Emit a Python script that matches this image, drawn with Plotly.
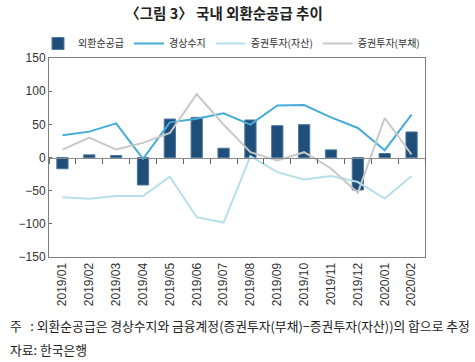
import plotly.graph_objects as go

months = ["2019/01", "2019/02", "2019/03", "2019/04", "2019/05", "2019/06", "2019/07",
          "2019/08", "2019/09", "2019/10", "2019/11", "2019/12", "2020/01", "2020/02"]
net_fx_supply = [-17, 4, 3, -41.5, 58, 60.5, 14, 56.5, 48, 49.5, 11.5, -49, 6, 38.5]
current_account = [33.5, 39, 51.5, -2, 53, 58.5, 66.5, 49.5, 78.5, 79, 60.5, 44.5, 11, 64.5]
portfolio_assets = [-60, -62, -58, -58, -29, -90, -98, 2, -22, -33, -28, -37, -62, -28]
portfolio_liab = [12, 30, 12, 22, 37, 95.5, 49.5, 8, -4.5, 8, -16.5, -53, 59.5, 4.5]

KR = "Noto Sans CJK KR"
PLOT_W = 376
H = 362

fig = go.Figure()
fig.add_trace(go.Bar(x=months, y=net_fx_supply, name="외환순공급",
                     marker=dict(color="#1f4e78", line=dict(color="#4d7aa0", width=1)),
                     width=0.42))
fig.add_trace(go.Scatter(x=months, y=current_account, name="경상수지", mode="lines",
                         line=dict(color="#45acd8", width=2)))
fig.add_trace(go.Scatter(x=months, y=portfolio_assets, name="증권투자(자산)", mode="lines",
                         line=dict(color="#b5e0ea", width=2)))
fig.add_trace(go.Scatter(x=months, y=portfolio_liab, name="증권투자(부채)", mode="lines",
                         line=dict(color="#c8c8c8", width=2), xaxis="x2"))

fig.update_layout(
    width=475, height=H,
    margin=dict(l=49, r=50, t=58, b=105, autoexpand=False),
    paper_bgcolor="white", plot_bgcolor="white",
    font=dict(family=KR, size=12, color="#333333"),
    title=dict(text="〈그림 3〉 국내 외환순공급 추이", x=(224 - 49) / PLOT_W, xref="paper",
               xanchor="center", y=1 - 14 / H, yref="container", yanchor="middle",
               font=dict(family=KR, size=14.5, color="#222222", weight="bold")),
    showlegend=True,
    legend=dict(orientation="h", x=(38 - 49) / PLOT_W, xanchor="left", y=1.0, yanchor="bottom",
                font=dict(family=KR, size=10, color="#333333"), itemwidth=30,
                bgcolor="rgba(0,0,0,0)", traceorder="normal"),
    bargap=0.5,
    xaxis=dict(type="category", categoryorder="array", categoryarray=months, automargin=False,
               range=[-0.5, 13.5], tickangle=-90, ticks="", showline=True, mirror=True,
               linecolor="#7f7f7f", linewidth=1, showgrid=False,
               tickfont=dict(family="Liberation Sans, Arial", size=12, color="#333333")),
    xaxis2=dict(type="category", categoryorder="array", categoryarray=months, automargin=False,
                range=[-0.5, 13.5], overlaying="x", anchor="free", position=0.5,
                side="bottom", showticklabels=False, ticks="outside", tickson="boundaries",
                ticklen=5, tickcolor="#666666", tickwidth=1, showline=True,
                linecolor="#8a8a8a", linewidth=1.3, showgrid=False),
    yaxis=dict(range=[-150, 150], dtick=50, ticks="inside", ticklen=3, tickcolor="#666666",
               showline=True, mirror=True, linecolor="#7f7f7f", linewidth=1, automargin=False,
               showgrid=False, zeroline=False,
               tickfont=dict(family="Liberation Sans, Arial", size=12, color="#333333")),
)

fig.add_annotation(text="주   : 외환순공급은 경상수지와 금융계정(증권투자(부채)−증권투자(자산))의 합으로 추정",
                   xref="paper", yref="paper", x=-41 / PLOT_W, y=0, xanchor="left", yanchor="middle",
                   yshift=-68, showarrow=False, font=dict(family=KR, size=12.8, color="#222222"))
fig.add_annotation(text="자료: 한국은행",
                   xref="paper", yref="paper", x=-41 / PLOT_W, y=0, xanchor="left", yanchor="middle",
                   yshift=-92, showarrow=False, font=dict(family=KR, size=12.8, color="#222222"))

fig.write_html("out.html", config={"displayModeBar": False},
               post_script="document.body.style.margin='0';")
